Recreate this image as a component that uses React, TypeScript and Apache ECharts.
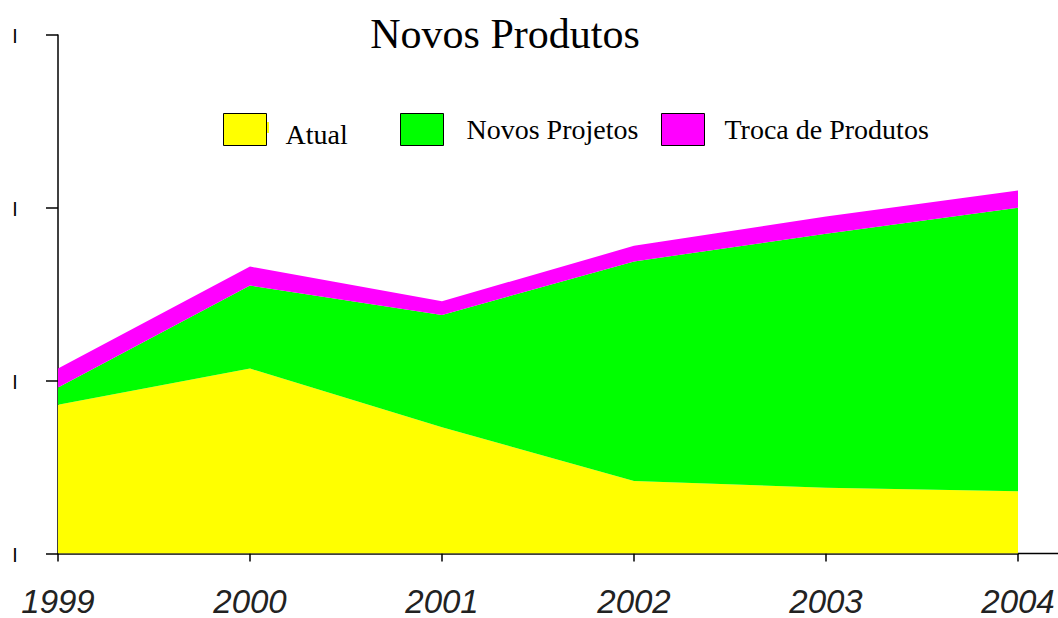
import React, { useEffect, useRef } from 'react';
import * as echarts from 'echarts';

const years = ['1999', '2000', '2001', '2002', '2003', '2004'];
const atual = [0.86, 1.07, 0.73, 0.42, 0.38, 0.36];
const novosProjetos = [0.10, 0.48, 0.65, 1.27, 1.47, 1.64];
const trocaDeProdutos = [0.11, 0.11, 0.08, 0.09, 0.10, 0.10];
const seriesNames = ['Atual', 'Novos Projetos', 'Troca de Produtos'];
const seriesColors = ['#ffff00', '#00ff00', '#ff00ff'];
const titleText = 'Novos Produtos';

export default function App() {
  const ref = useRef<HTMLDivElement>(null);
  useEffect(() => {
    document.body.style.margin = '0';
    const chart = echarts.init(ref.current!, null, { renderer: 'svg' });
    const values = [atual, novosProjetos, trocaDeProdutos];
    const legendBase = {
      orient: 'horizontal',
      padding: 0,
      itemWidth: 43,
      itemHeight: 32,
      selectedMode: false,
      icon: 'rect',
      itemStyle: { borderColor: '#000', borderWidth: 1 },
    };
    const legendFont = { fontFamily: 'Liberation Serif', fontSize: 28, color: '#000' };
    chart.setOption({
      animation: false,
      title: {
        text: titleText,
        left: 500,
        top: 8,
        textAlign: 'center',
        textStyle: { fontFamily: 'Liberation Serif', fontSize: 42, fontWeight: 'normal', color: '#000' },
      },
      legend: [
        {
          ...legendBase, left: 223, top: 113, data: [seriesNames[0]],
          formatter: '{s|}{a|{name}}',
          textStyle: {
            ...legendFont,
            padding: [0, 0, 0, 14],
            rich: {
              s: { height: 38, width: 0 },
              a: { ...legendFont, verticalAlign: 'bottom' },
            },
          },
        },
        { ...legendBase, left: 400, top: 113, data: [seriesNames[1]], textStyle: { ...legendFont, padding: [0, 0, 0, 18] } },
        { ...legendBase, left: 661, top: 113, data: [seriesNames[2]], textStyle: { ...legendFont, padding: [0, 0, 0, 15] } },
      ],
      grid: { left: 58, right: 40, top: 35, bottom: 61, containLabel: false },
      xAxis: {
        type: 'category',
        data: years,
        boundaryGap: false,
        axisLine: { lineStyle: { color: '#000', width: 1.5 } },
        axisTick: { length: 8, lineStyle: { color: '#000', width: 1.5 } },
        splitLine: { show: false },
        axisLabel: {
          fontFamily: 'Liberation Sans',
          fontStyle: 'italic',
          fontSize: 33,
          lineHeight: 26,
          color: '#222',
          margin: 35,
        },
      },
      yAxis: {
        type: 'value',
        min: 0,
        max: 3,
        interval: 1,
        axisLine: { show: true, lineStyle: { color: '#000', width: 1.5 } },
        axisTick: { show: true, length: 12, lineStyle: { color: '#000', width: 1.5 } },
        splitLine: { show: false },
        axisLabel: {
          formatter: () => '|',
          fontFamily: 'Liberation Sans',
          fontSize: 14,
          fontWeight: 'bold',
          color: '#000',
          align: 'center',
          margin: 43,
          padding: [0, 0, 5, 0],
        },
      },
      series: seriesNames.map((name, i) => ({
        name,
        type: 'line',
        stack: 'total',
        symbol: 'none',
        lineStyle: { width: 0 },
        areaStyle: { color: seriesColors[i], opacity: 1 },
        itemStyle: { color: seriesColors[i] },
        data: values[i],
      })),
    });
    const end = chart.convertToPixel({ gridIndex: 0 }, [years[years.length - 1], 0]) as number[];
    chart.setOption({
      graphic: [
        { type: 'rect', left: 266, top: 122, shape: { width: 3, height: 11 }, style: { fill: '#ffff00' } },
        {
          type: 'line',
          shape: { x1: end[0], y1: end[1], x2: 1058, y2: end[1] },
          style: { stroke: '#000', lineWidth: 1.5 },
        },
      ],
    });
    return () => chart.dispose();
  }, []);
  return <div ref={ref} style={{ width: 1058, height: 618 }} />;
}
